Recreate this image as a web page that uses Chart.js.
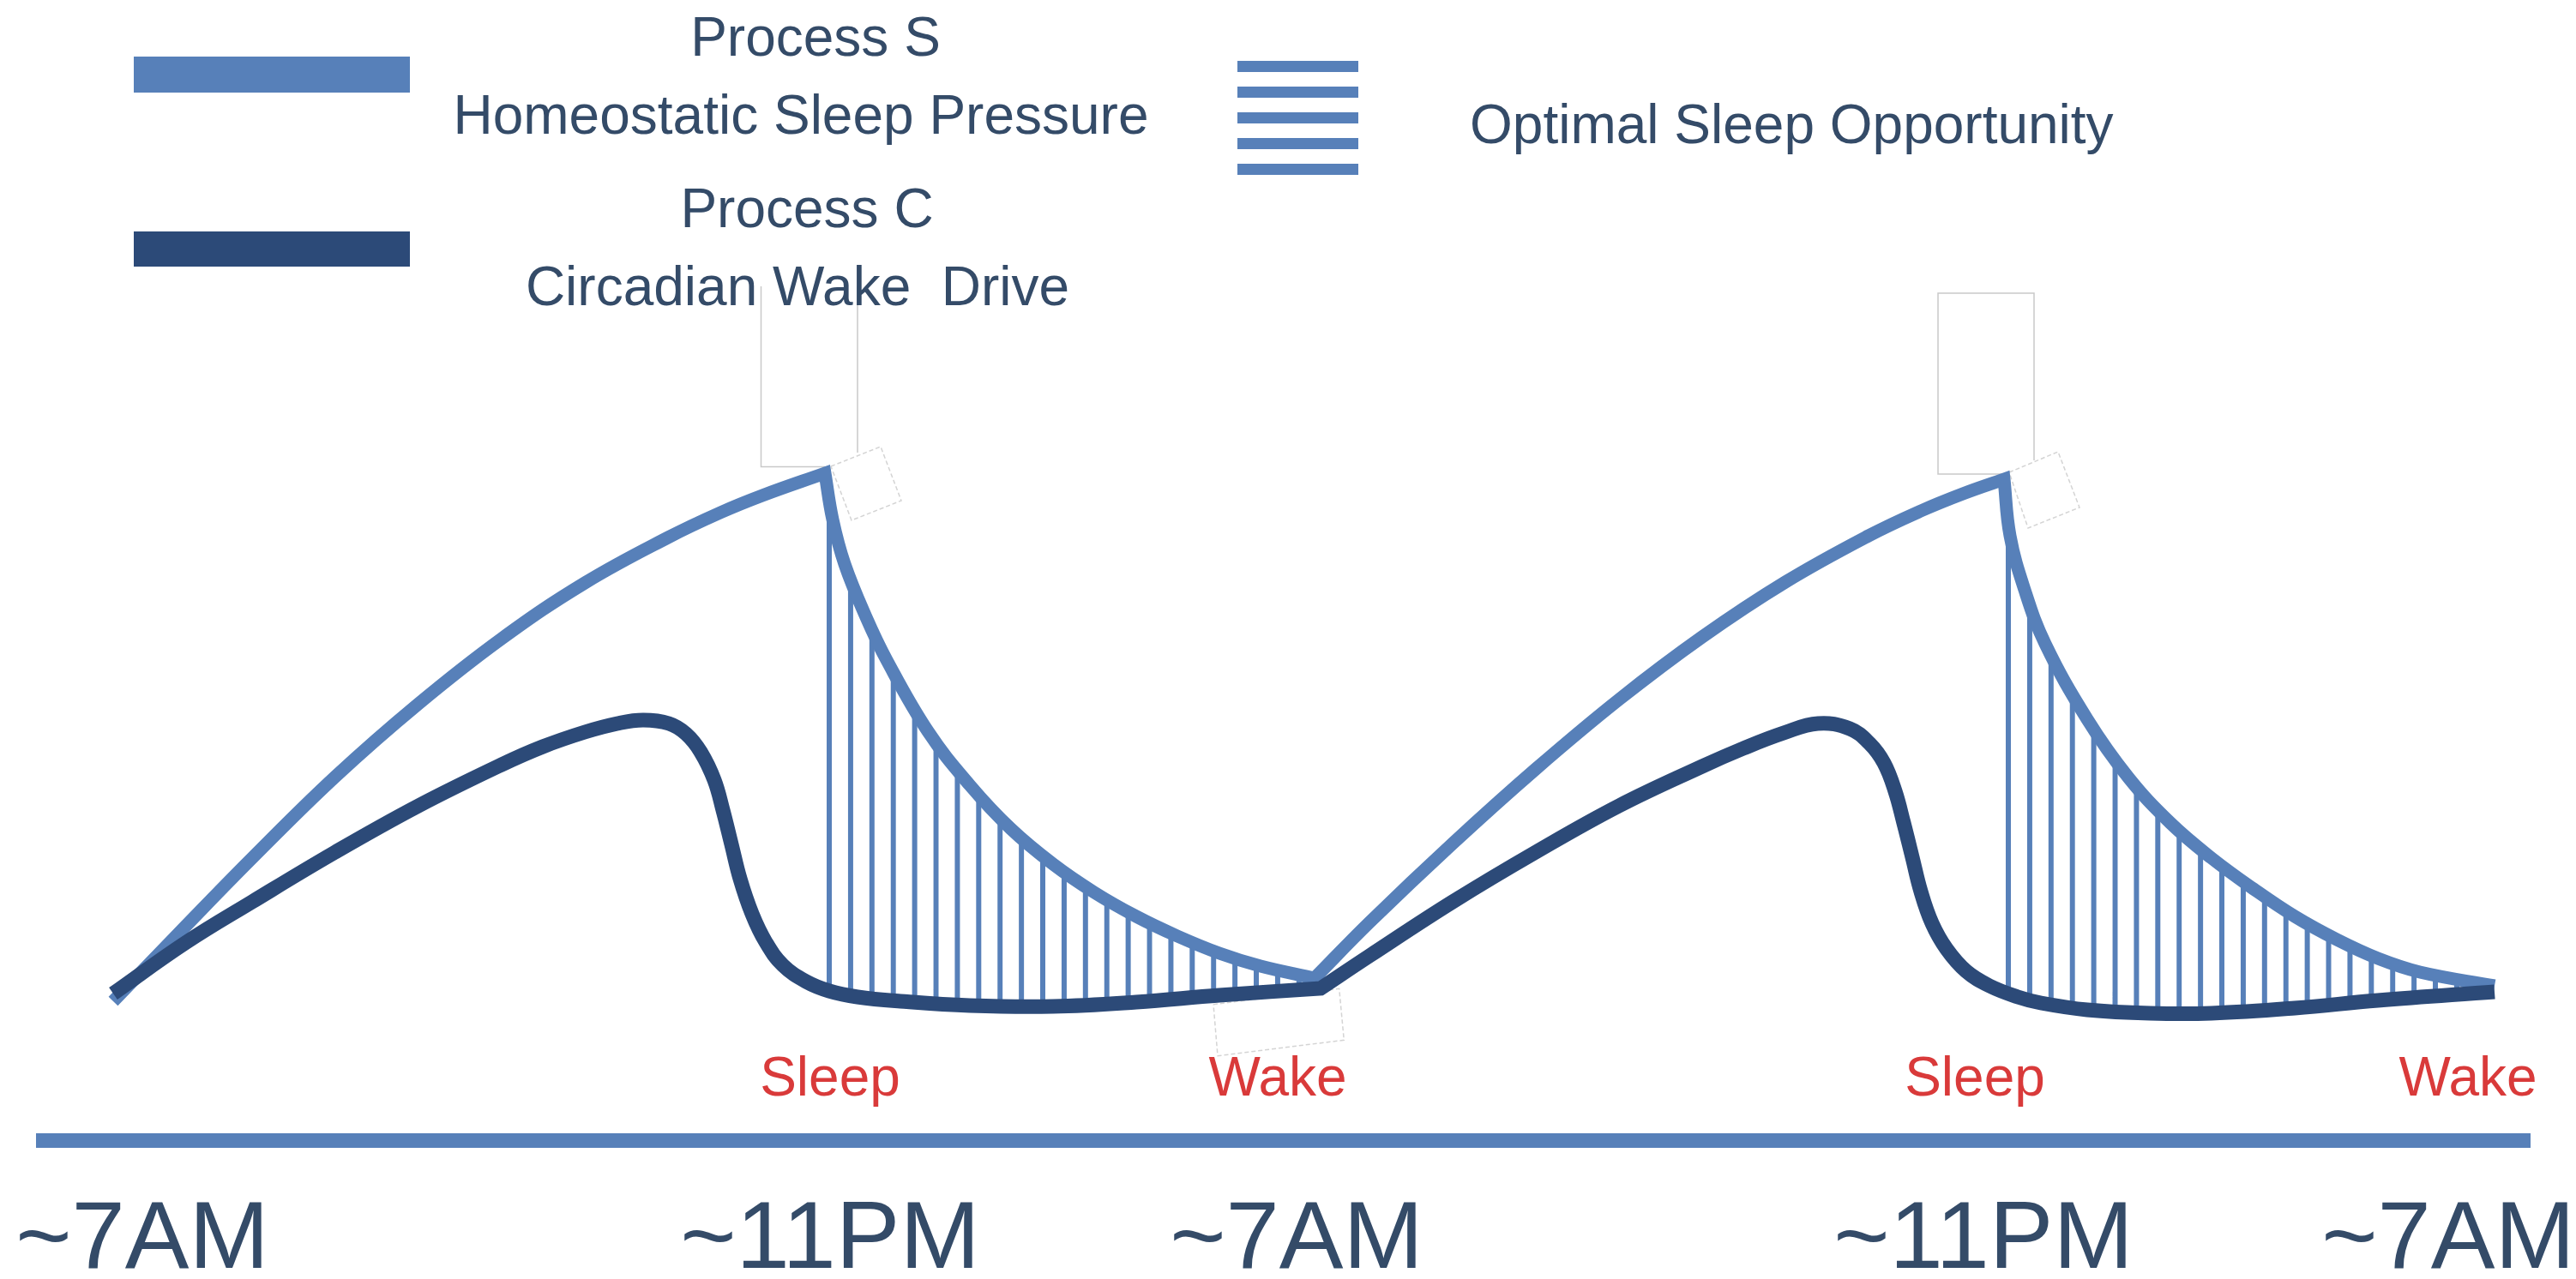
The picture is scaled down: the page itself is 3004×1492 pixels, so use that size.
<!DOCTYPE html>
<html>
<head>
<meta charset="utf-8">
<script src="https://cdn.jsdelivr.net/npm/chart.js@4"></script>
<style>
  html, body { margin: 0; padding: 0; background: #fff; }
  canvas { display: block; }
</style>
</head>
<body>
<canvas id="twoProcess" width="3004" height="1492"></canvas>
<script>
// Two-process model of sleep regulation, two days of it.
// x = position along the (schematic) time line, y = relative level.

// Process S, homeostatic sleep pressure
var sWake1 = [[8.2, 4.2], [16.2, 12.5], [24.4, 20.9], [34.1, 30.4], [43.8, 38.9], [53.5, 46.5],
  [63.2, 53.0], [72.9, 58.3], [79.0, 61.2], [83.9, 63.2], [91.2, 65.8]];
var sSleep1 = [[91.2, 65.8], [92.1, 60.4], [93.5, 55.2], [96.0, 49.0], [98.4, 44.0], [103.2, 35.7],
  [108.1, 29.4], [112.9, 24.3], [117.8, 20.2], [122.6, 16.9], [127.5, 14.1], [132.3, 11.8],
  [137.2, 9.8], [142.0, 8.3], [148.3, 6.9]];
var sWake2 = [[148.3, 6.9], [154.7, 13.4], [164.4, 22.6], [174.1, 31.3], [183.8, 39.4], [193.5, 46.7],
  [203.2, 53.1], [212.9, 58.5], [219.0, 61.4], [223.9, 63.4], [228.7, 65.1]];
var sSleep2 = [[228.7, 65.1], [229.4, 58.5], [231.1, 52.2], [233.5, 45.9], [238.4, 37.1], [243.2, 30.3],
  [248.1, 25.0], [252.9, 20.9], [257.8, 17.3], [262.6, 14.1], [267.5, 11.4], [272.3, 9.2],
  [277.2, 7.6], [285.9, 6.0]];

// Process C, circadian wake drive
var cDay1 = [[8.2, 5.1], [16.6, 11.0], [24.4, 15.8], [34.1, 21.6], [43.8, 27.0], [53.5, 31.8],
  [58.3, 33.9], [63.2, 35.6], [67.0, 36.6], [70.0, 37.0], [73.0, 36.6], [75.0, 35.4], [76.7, 33.3],
  [78.3, 30.0], [79.3, 26.5], [80.3, 22.5], [81.3, 18.5], [82.7, 14.4], [84.3, 11.1], [86.3, 8.4],
  [89.0, 6.5], [91.7, 5.4], [95.0, 4.7], [100.0, 4.2], [108.1, 3.7], [117.8, 3.6], [127.5, 4.1],
  [137.2, 4.9], [149.0, 5.7]];
var cDay2 = [[149.0, 5.7], [154.7, 9.5], [164.4, 15.8], [174.1, 21.6], [183.8, 27.0], [193.5, 31.6],
  [198.3, 33.7], [203.0, 35.5], [207.0, 36.6], [210.7, 36.0], [213.0, 34.3], [214.7, 32.0],
  [216.0, 28.7], [217.0, 25.0], [218.0, 21.0], [219.0, 17.0], [220.3, 13.3], [222.0, 10.3],
  [224.3, 7.7], [227.0, 6.0], [230.3, 4.7], [233.0, 4.0], [238.4, 3.2], [245.7, 2.8], [252.9, 2.8],
  [262.6, 3.4], [272.3, 4.3], [285.9, 5.3]];

// empty callout frames left in the original drawing
var calloutFrames = [[95.0, 68.2], [95.0, 87.6], [null, null], [83.75, 87.6], [83.75, 66.55], [91.2, 66.55],
  [null, null], [232.2, 67.3], [232.2, 86.8], [221.0, 86.8], [221.0, 65.7], [228.7, 65.7]];
var calloutTilted = [[91.9, 66.6], [97.7, 68.9], [100.1, 62.6], [94.3, 60.3], [91.9, 66.6], [null, null],
  [136.5, 3.83], [151.17, 5.67], [151.73, -0.33], [137.0, -2.17], [136.5, 3.83], [null, null],
  [229.3, 65.9], [235.0, 68.3], [237.5, 61.8], [231.5, 59.4], [229.3, 65.9]];

var timeTicks = [11.6, 91.8, 146.2, 226.3, 280.5];
var timeLabels = ['~7AM', '~11PM', '~7AM', '~11PM', '~7AM'];
var eventTicks = [91.8, 144.0, 225.3, 282.8];
var eventLabels = ['Sleep', 'Wake', 'Sleep', 'Wake'];

var legendS = ['Process S', 'Homeostatic Sleep Pressure'];
var legendC = ['Process C', 'Circadian Wake  Drive'];
var legendHatch = 'Optimal Sleep Opportunity';

var sColor = '#5780b9';
var cColor = '#2c4a78';
var textColor = '#344b68';
var eventColor = '#d93a3a';
var frameColor = '#c9c9c9';
var HATCH_STEP = 24.9;

Chart.defaults.font.family = '"Liberation Sans", Arial, sans-serif';

var canvas = document.getElementById('twoProcess');

function makeHatch(color) {
  var tile = document.createElement('canvas');
  tile.width = 25;
  tile.height = 4;
  var t = tile.getContext('2d');
  t.fillStyle = color;
  t.fillRect(0, 0, 6, 4);
  return canvas.getContext('2d').createPattern(tile, 'repeat');
}
var hatch1 = makeHatch(sColor);
var hatch2 = makeHatch(sColor);

// line up the stripes with the start of each night
var hatchAlign = {
  id: 'hatchAlign',
  afterLayout: function (chart) {
    var xs = chart.scales.x;
    [[hatch1, sSleep1], [hatch2, sSleep2]].forEach(function (p) {
      var px = xs.getPixelForValue(p[1][0][0]);
      p[0].setTransform(new DOMMatrix().translate(px + 2, 0).scale(HATCH_STEP / 25, 1));
    });
  }
};

var sketchLegend = {
  id: 'sketchLegend',
  afterDraw: function (chart) {
    var ctx = chart.ctx;
    var ds = chart.data.datasets;
    ctx.save();
    ctx.fillStyle = ds[1].borderColor;
    ctx.fillRect(156, 66, 322, 42);
    ctx.fillStyle = ds[0].borderColor;
    ctx.fillRect(156, 270, 322, 41);
    ctx.fillStyle = sColor;
    for (var i = 0; i < 5; i++) {
      ctx.fillRect(1443, 71 + i * 30, 141, 13);
    }
    ctx.fillStyle = textColor;
    ctx.font = '64px "Liberation Sans", Arial, sans-serif';
    ctx.textBaseline = 'alphabetic';
    ctx.textAlign = 'center';
    ctx.fillText(legendS[0], 951, 65);
    ctx.fillText(legendS[1], 934, 156);
    ctx.fillText(legendC[0], 941, 265);
    ctx.fillText(legendC[1], 930, 356);
    ctx.textAlign = 'left';
    ctx.fillText(legendHatch, 1714, 167);
    ctx.restore();
  }
};

function fixedTicks(values) {
  return function (axis) {
    axis.ticks = values.map(function (v) { return { value: v }; });
  };
}
function fixedHeight(h) {
  return function (axis) {
    axis.height = h;
    axis.paddingLeft = 0;
    axis.paddingRight = 0;
  };
}

new Chart(canvas, {
  type: 'line',
  data: {
    datasets: [{
      label: 'Process C',
      data: cDay1.concat(cDay2),
      borderColor: cColor,
      borderWidth: 17,
      tension: 0.4,
      fill: false,
      order: 0
    }, {
      label: 'Process S',
      data: sWake1.concat(sSleep1, sWake2, sSleep2),
      borderColor: sColor,
      borderWidth: 15,
      tension: 0.4,
      fill: false,
      order: 1
    }, {
      label: 'Optimal Sleep Opportunity',
      data: sSleep1,
      borderColor: 'rgba(0,0,0,0)',
      borderWidth: 0,
      backgroundColor: hatch1,
      tension: 0.4,
      fill: 0,
      order: 2
    }, {
      label: 'Optimal Sleep Opportunity 2',
      data: sSleep2,
      borderColor: 'rgba(0,0,0,0)',
      borderWidth: 0,
      backgroundColor: hatch2,
      tension: 0.4,
      fill: 0,
      order: 2
    }, {
      label: 'frames',
      data: calloutFrames,
      borderColor: frameColor,
      borderWidth: 1.5,
      tension: 0,
      fill: false,
      clip: false,
      order: 3
    }, {
      label: 'tilted frames',
      data: calloutTilted,
      borderColor: '#d4d4d4',
      borderWidth: 1.5,
      borderDash: [5, 3],
      tension: 0,
      fill: false,
      clip: false,
      order: 3
    }]
  },
  options: {
    responsive: false,
    animation: false,
    events: [],
    layout: { padding: { top: 380, left: 50, right: 54, bottom: 0 } },
    elements: { point: { radius: 0 } },
    plugins: {
      legend: { display: false },
      tooltip: { enabled: false },
      filler: { drawTime: 'beforeDatasetsDraw' }
    },
    scales: {
      x: {
        type: 'linear',
        position: 'bottom',
        weight: 0,
        min: 0,
        max: 290,
        grid: { display: false, drawTicks: false },
        border: { display: false },
        afterBuildTicks: fixedTicks(eventTicks),
        afterFit: fixedHeight(120),
        ticks: {
          autoSkip: false,
          maxRotation: 0,
          minRotation: 0,
          padding: 18,
          color: eventColor,
          font: { size: 64, lineHeight: 1 },
          callback: function (value, index) { return eventLabels[index]; }
        }
      },
      time: {
        type: 'linear',
        position: 'bottom',
        weight: 10,
        min: 0,
        max: 290,
        grid: { display: false, drawTicks: false },
        border: { display: true, color: sColor, width: 17 },
        afterBuildTicks: fixedTicks(timeTicks),
        afterFit: fixedHeight(162),
        ticks: {
          autoSkip: false,
          maxRotation: 0,
          minRotation: 0,
          padding: 62,
          color: textColor,
          font: { size: 112, lineHeight: 1 },
          callback: function (value, index) { return timeLabels[index]; }
        }
      },
      y: {
        display: false,
        min: 0,
        max: 83
      }
    }
  },
  plugins: [hatchAlign, sketchLegend]
});
</script>
</body>
</html>
